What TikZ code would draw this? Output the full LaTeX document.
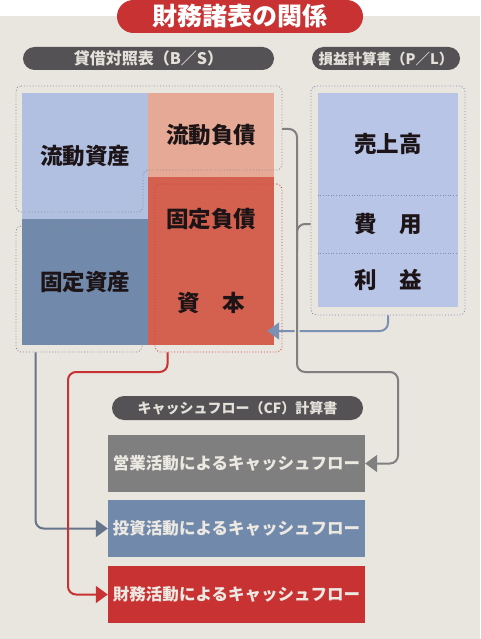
\documentclass[tikz,border=0pt]{standalone}
\usepackage{fontspec}
\newfontfamily\jp{Noto Sans CJK JP}
\newfontfamily\jpheavy{Noto Sans CJK JP Black}
\usetikzlibrary{arrows.meta}
\definecolor{bg}{HTML}{E9E5DF}
\definecolor{titlered}{HTML}{C83232}
\definecolor{pilldark}{HTML}{545254}
\definecolor{pilltext}{HTML}{E4E0DA}
\definecolor{cablue}{HTML}{B1C0E1}
\definecolor{fablue}{HTML}{7189AA}
\definecolor{clsalmon}{HTML}{E6A995}
\definecolor{flred}{HTML}{D4614F}
\definecolor{plblue}{HTML}{B8C5E7}
\definecolor{ink}{HTML}{1C1416}
\definecolor{framegray}{HTML}{8C8C94}
\definecolor{plframe}{HTML}{7F8FB0}
\definecolor{capred}{HTML}{D03A3A}
\definecolor{cfgray}{HTML}{7F7F7F}
\definecolor{cftext}{HTML}{ECE8E2}
\definecolor{flowgray}{HTML}{808080}
\definecolor{flowblue}{HTML}{7A91B3}
\definecolor{flowdark}{HTML}{66748C}

\begin{document}
\begin{tikzpicture}[x=1pt,y=-1pt,
        every node/.style={inner sep=0pt},
        pill/.style={fill=pilldark, text=pilltext, rounded corners=11.5pt, minimum height=23pt,
            font=\jp\bfseries\fontsize{16}{16}\selectfont},
        block/.style={minimum width=126pt, text=ink, font=\jpheavy\fontsize{22.5}{22.5}\selectfont},
        dotframe/.style={draw=framegray, dotted, line width=0.9pt, rounded corners=5pt},
        divider/.style={draw=plframe, dotted, line width=0.6pt},
        cfbox/.style={minimum width=257pt, minimum height=57pt, text=cftext,
            font=\jp\bfseries\fontsize{16.5}{16.5}\selectfont},
        flowline/.style={line width=2pt, rounded corners=8pt},
        flow/.style={flowline, -{Triangle[length=12pt,width=17pt]}}]
            \useasboundingbox (0,0) rectangle (480,639);
            \fill [white] (0,0) rectangle (480,16);
            \fill [bg] (0,16) rectangle (480,639);
            % title and headers
            \node [pill, fill=titlered, text=white, minimum width=246pt, minimum height=33pt,
                rounded corners=16.5pt, font=\jpheavy\fontsize{25}{25}\selectfont] (title) at (240,16.5) {財務諸表の関係};
            \node [pill, minimum width=251pt] (bshead) at (148.5,58.5) {貸借対照表（B／S）};
            \node [pill, minimum width=148pt, font=\jp\bfseries\fontsize{14.5}{14.5}\selectfont] (plhead) at (386,58.5) {損益計算書（P／L）};
            % balance sheet
            \node [block, fill=cablue, minimum height=126pt] (ca) at (85,156) {流動資産};
            \node [block, fill=fablue, minimum height=126pt] (fa) at (85,282) {固定資産};
            \node [block, fill=clsalmon, minimum height=84pt] (cl) at (211,135) {流動負債};
            \node [block, fill=flred, minimum height=84pt] (fl) at (211,219) {固定負債};
            \node [block, fill=flred, minimum height=84pt] (cap) at (211,303) {資\quad 本};
            \draw [dotframe] (16,86) -- (282,86) -- (282,170) -- (143,170) -- (143,212) -- (16,212) -- cycle;
            \coordinate (curR) at (282,129);
            \node [dotframe, minimum width=126pt, minimum height=126pt] (fafr) at (79,289) {};
            \node [dotframe, draw=capred, minimum width=127pt, minimum height=168pt] (capfr) at (218.5,268) {};
            % profit and loss
            \node [block, fill=plblue, minimum width=140pt, minimum height=102pt] (sales) at (388,144) {売上高};
            \node [block, fill=plblue, minimum width=140pt, minimum height=58pt] (cost) at (388,224) {費\quad 用};
            \node [block, fill=plblue, minimum width=140pt, minimum height=54pt] (profit) at (388,280) {利\quad 益};
            \draw [divider] (sales.south west) -- (sales.south east);
            \draw [divider] (cost.south west) -- (cost.south east);
            \node [dotframe, draw=plframe, minimum width=154pt, minimum height=229pt] (plfr) at (388,200.5) {};
            % cash flow
            \node [pill, minimum width=251pt, minimum height=24pt, rounded corners=12pt,
                font=\jp\bfseries\fontsize{14}{14}\selectfont] (cfhead) at (237.5,408) {キャッシュフロー（CF）計算書};
            \node [cfbox, fill=cfgray] (op) at (236.5,463.5) {営業活動によるキャッシュフロー};
            \node [cfbox, fill=fablue] (inv) at (236.5,528.5) {投資活動によるキャッシュフロー};
            \node [cfbox, fill=titlered] (fin) at (236.5,594.5) {財務活動によるキャッシュフロー};
            % connectors
            \draw [flow, color=flowblue, shorten >=-7pt] (plfr.south) |- ([yshift=-28pt]cap.east);
            \draw [flow, color=flowgray, preaction={draw=bg, line width=5pt, arrows=-}] (curR) -| (297,372) -| (398,463.5) -- (op.east);
            \draw [flowline, color=flowgray] (plfr.west |- cost) -| (297,250);
            \draw [flow, color=flowdark] ([xshift=20pt]fafr.south west) |- (inv.west);
            \draw [flow, color=titlered] ([xshift=13pt]capfr.south west) |- (68,372) |- (fin.west);
        \end{tikzpicture}
\end{document}
